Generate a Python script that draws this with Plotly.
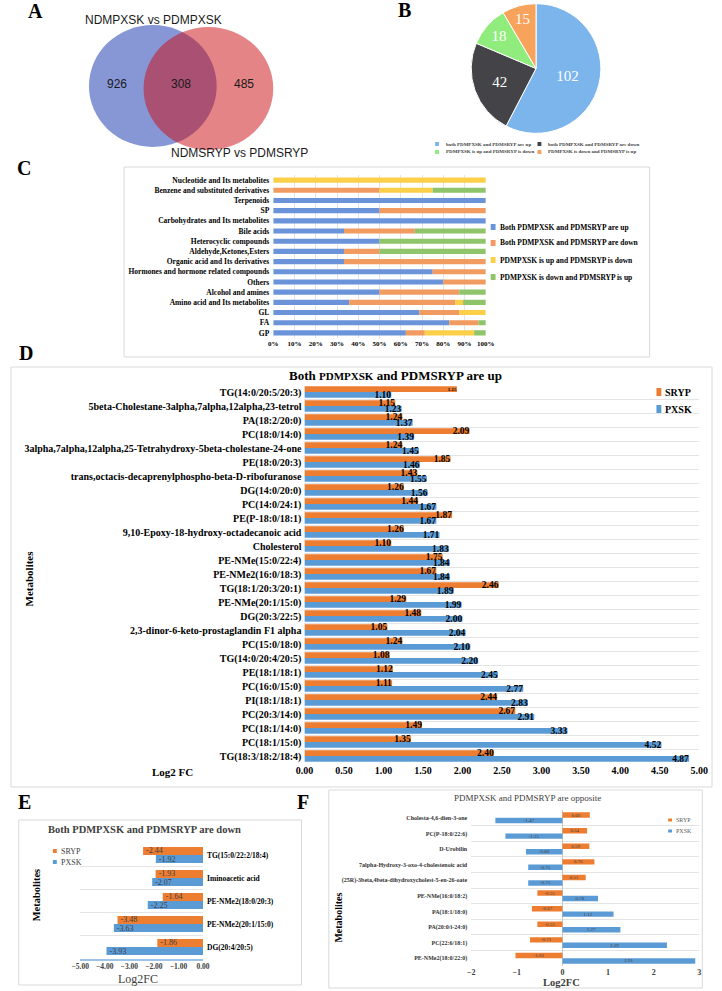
import plotly.graph_objects as go

W, H = 722, 991
SERIF = "Liberation Serif"
SANS = "Liberation Sans"


def X(p):
    return p / W


def Y(p):
    return 1 - p / H


# ---------------- data ----------------
venn_sets = ["NDMPXSK vs PDMPXSK", "NDMSRYP vs PDMSRYP"]
venn_counts = [926, 308, 485]

pie_labels = ["both PDMPXSK and PDMSRYP are up", "both PDMPXSK and PDMSRYP are down",
              "PDMPXSK is up and PDMSRYP is down", "PDMPXSK is down and PDMSRYP is up"]
pie_values = [102, 42, 18, 15]

c_classes = ["Nucleotide and Its metabolites", "Benzene and substituted derivatives", "Terpenoids", "SP",
             "Carbohydrates and Its metabolites", "Bile acids", "Heterocyclic compounds",
             "Aldehyde,Ketones,Esters", "Organic acid and Its derivatives",
             "Hormones and hormone related compounds", "Others", "Alcohol and amines",
             "Amino acid and Its metabolites", "GL", "FA", "GP"]
c_series = ["Both PDMPXSK and PDMSRYP are up", "Both PDMPXSK and PDMSRYP are down",
            "PDMPXSK is up and PDMSRYP is down", "PDMPXSK is down and PDMSRYP is up"]
c_both_up = [0, 0, 100, 50, 100, 33.3, 50, 33.3, 33.3, 75, 80, 50, 35.7, 68.75, 82.8, 62.4]
c_both_down = [0, 50, 0, 50, 0, 33.3, 0, 16.7, 66.7, 25, 20, 37.5, 50, 18.75, 13.8, 8.9]
c_up_down = [100, 25, 0, 0, 0, 0, 0, 0, 0, 0, 0, 0, 3.6, 12.5, 0, 23.2]
c_down_up = [0, 25, 0, 0, 0, 33.4, 50, 50, 0, 0, 0, 12.5, 10.7, 0, 3.4, 5.5]
c_ticks = [0, 10, 20, 30, 40, 50, 60, 70, 80, 90, 100]

d_metabolites = ["TG(14:0/20:5/20:3)", "5beta-Cholestane-3alpha,7alpha,12alpha,23-tetrol", "PA(18:2/20:0)",
                 "PC(18:0/14:0)", "3alpha,7alpha,12alpha,25-Tetrahydroxy-5beta-cholestane-24-one",
                 "PE(18:0/20:3)", "trans,octacis-decaprenylphospho-beta-D-ribofuranose", "DG(14:0/20:0)",
                 "PC(14:0/24:1)", "PE(P-18:0/18:1)", "9,10-Epoxy-18-hydroxy-octadecanoic acid", "Cholesterol",
                 "PE-NMe(15:0/22:4)", "PE-NMe2(16:0/18:3)", "TG(18:1/20:3/20:1)", "PE-NMe(20:1/15:0)",
                 "DG(20:3/22:5)", "2,3-dinor-6-keto-prostaglandin F1 alpha", "PC(15:0/18:0)",
                 "TG(14:0/20:4/20:5)", "PE(18:1/18:1)", "PC(16:0/15:0)", "PI(18:1/18:1)", "PC(20:3/14:0)",
                 "PC(18:1/14:0)", "PC(18:1/15:0)", "TG(18:3/18:2/18:4)"]
# bar lengths as drawn in the reference (first SRYP bar is drawn longer than its printed label)
d_sryp = [1.93, 1.15, 1.24, 2.09, 1.24, 1.85, 1.43, 1.26, 1.44, 1.87, 1.26, 1.10, 1.75, 1.67,
          2.46, 1.29, 1.48, 1.05, 1.24, 1.08, 1.12, 1.11, 2.44, 2.67, 1.49, 1.35, 2.40]
d_sryp_labels = ["1.15", "1.15", "1.24", "2.09", "1.24", "1.85", "1.43", "1.26", "1.44", "1.87", "1.26",
                 "1.10", "1.75", "1.67", "2.46", "1.29", "1.48", "1.05", "1.24", "1.08", "1.12", "1.11",
                 "2.44", "2.67", "1.49", "1.35", "2.40"]
d_pxsk = [1.10, 1.23, 1.37, 1.39, 1.45, 1.46, 1.55, 1.56, 1.67, 1.67, 1.71, 1.83, 1.84, 1.84,
          1.89, 1.99, 2.00, 2.04, 2.10, 2.20, 2.45, 2.77, 2.83, 2.91, 3.33, 4.52, 4.87]

e_metabolites = ["TG(15:0/22:2/18:4)", "Iminoacetic acid", "PE-NMe2(18:0/20:3)", "PE-NMe2(20:1/15:0)",
                 "DG(20:4/20:5)"]
e_sryp = [-2.44, -1.93, -1.64, -3.48, -1.86]
e_pxsk = [-1.92, -2.07, -2.25, -3.63, -3.93]

f_metabolites = ["Cholesta-4,6-dien-3-one", "PC(P-18:0/22:6)", "D-Urobilin",
                 "7alpha-Hydroxy-3-oxo-4-cholestenoic acid",
                 "(25R)-3beta,4beta-dihydroxycholest-5-en-26-oate", "PE-NMe(16:0/18:2)", "PA(18:1/18:0)",
                 "PA(20:0/i-24:0)", "PC(22:6/18:1)", "PE-NMe2(18:0/22:0)"]
f_sryp = [0.60, 0.54, 0.59, 0.70, 0.51, -0.55, -0.67, -0.55, -0.71, -1.03]
f_pxsk = [-1.47, -1.25, -0.80, -0.75, -0.75, 0.78, 1.12, 1.27, 2.29, 2.91]

# ---------------- styles ----------------
VENN_BLUE = "#8797d6"
VENN_RED = "rgba(203,10,15,0.5)"
PIE_COLORS = ["#7cb5ec", "#434348", "#90ed7d", "#f7a35c"]
C_COLORS = ["#6b93da", "#f19b60", "#fccf48", "#8fc46b"]
ORANGE = "#ed7d31"
BLUE = "#5b9bd5"
BORDER = "#d9d9d9"
GRID = "#e4e4e4"

fig = go.Figure()

# ---- C: stacked composition bars ----
c_all = [c_both_up, c_both_down, c_up_down, c_down_up]
base = [0.0] * len(c_classes)
for name, vals, col in zip(c_series, c_all, C_COLORS):
    fig.add_trace(go.Bar(y=c_classes, x=vals, base=list(base), orientation="h", name=name,
                         width=0.5, offset=-0.25, marker=dict(color=col, line=dict(width=0)),
                         xaxis="x", yaxis="y", showlegend=False, hoverinfo="skip"))
    base = [b + v for b, v in zip(base, vals)]

# ---- D ----
fig.add_trace(go.Bar(y=d_metabolites, x=d_sryp, orientation="h", name="SRYP", width=0.41, offset=-0.41,
                     marker=dict(color=ORANGE, line=dict(width=0)), text=d_sryp_labels,
                     textposition="inside", insidetextanchor="end", constraintext="none", textangle=0,
                     textfont=dict(family=SERIF, size=[5] + [9.5] * 26, color="black", weight="bold"),
                     cliponaxis=False, xaxis="x2", yaxis="y2", showlegend=False))
fig.add_trace(go.Bar(y=d_metabolites, x=d_pxsk, orientation="h", name="PXSK", width=0.41, offset=0.0,
                     marker=dict(color=BLUE, line=dict(width=0)), text=[f"{v:.2f}" for v in d_pxsk],
                     textposition="inside", insidetextanchor="end", constraintext="none", textangle=0,
                     textfont=dict(family=SERIF, size=9.5, color="black", weight="bold"),
                     cliponaxis=False, xaxis="x2", yaxis="y2", showlegend=False))

# ---- E ----
fig.add_trace(go.Bar(y=e_metabolites, x=e_sryp, orientation="h", name="SRYP", width=0.35, offset=-0.35,
                     marker=dict(color=ORANGE, line=dict(width=0)), text=[f"{v:.2f}" for v in e_sryp],
                     textposition="inside", insidetextanchor="end", constraintext="none", textangle=0,
                     textfont=dict(family=SERIF, size=8, color="#404040"),
                     xaxis="x3", yaxis="y3", showlegend=False))
fig.add_trace(go.Bar(y=e_metabolites, x=e_pxsk, orientation="h", name="PXSK", width=0.35, offset=0.0,
                     marker=dict(color=BLUE, line=dict(width=0)), text=[f"{v:.2f}" for v in e_pxsk],
                     textposition="inside", insidetextanchor="end", constraintext="none", textangle=0,
                     textfont=dict(family=SERIF, size=8, color="#404040"),
                     xaxis="x3", yaxis="y3", showlegend=False))

# ---- F ----
fig.add_trace(go.Bar(y=f_metabolites, x=f_sryp, orientation="h", name="SRYP", width=0.35, offset=-0.35,
                     marker=dict(color=ORANGE, line=dict(width=0)), text=[f"{v:.2f}" for v in f_sryp],
                     textposition="inside", insidetextanchor="middle", constraintext="none", textangle=0,
                     textfont=dict(family=SERIF, size=5, color="#404040"),
                     xaxis="x4", yaxis="y4", showlegend=False))
fig.add_trace(go.Bar(y=f_metabolites, x=f_pxsk, orientation="h", name="PXSK", width=0.35, offset=0.0,
                     marker=dict(color=BLUE, line=dict(width=0)), text=[f"{v:.2f}" for v in f_pxsk],
                     textposition="inside", insidetextanchor="middle", constraintext="none", textangle=0,
                     textfont=dict(family=SERIF, size=5, color="#404040"),
                     xaxis="x4", yaxis="y4", showlegend=False))

# ---- B: pie ----
fig.add_trace(go.Pie(labels=pie_labels, values=pie_values, sort=False, direction="clockwise", rotation=0,
                     domain=dict(x=[X(474), X(607)], y=[Y(135), Y(2)]),
                     marker=dict(colors=PIE_COLORS, line=dict(color="white", width=1)),
                     textinfo="value", textposition="inside", insidetextorientation="horizontal",
                     textfont=dict(family=SERIF, size=15, color="white"), showlegend=False,
                     hoverinfo="label+value"))

# ---------------- shapes ----------------
shapes = []


def rect(x0, y0, x1, y1, line=None, fill=None, lw=1):
    shapes.append(dict(type="rect", xref="paper", yref="paper", x0=X(x0), x1=X(x1), y0=Y(y1), y1=Y(y0),
                       line=dict(color=line or "rgba(0,0,0,0)", width=lw if line else 0),
                       fillcolor=fill or "rgba(0,0,0,0)", layer="below"))


# venn circles
shapes.append(dict(type="circle", xref="paper", yref="paper", x0=X(82), x1=X(213), y0=Y(147), y1=Y(25),
                   line=dict(width=0), fillcolor=VENN_BLUE, layer="above"))
shapes.append(dict(type="circle", xref="paper", yref="paper", x0=X(138), x1=X(271), y0=Y(150), y1=Y(27),
                   line=dict(width=0), fillcolor=VENN_RED, layer="above"))

# panel boxes
rect(118, 167, 657, 357, line=BORDER)
rect(2, 367, 721, 787, line=BORDER)
rect(10, 820, 300, 985, line=BORDER)
rect(328, 790, 711, 988, line=BORDER)

# ---------------- annotations ----------------
anns = []


def ann(text, x, y, size, color="black", family=SERIF, xanchor="center", yanchor="middle", angle=0):
    anns.append(dict(text=text, x=X(x), y=Y(y), xref="paper", yref="paper", showarrow=False,
                     font=dict(family=family, size=size, color=color), xanchor=xanchor, yanchor=yanchor,
                     textangle=angle))


# panel letters
for letter, lx, ly in [("A", 27, 11), ("B", 406, 10), ("C", 15, 168), ("D", 17, 353), ("E", 16, 802),
                       ("F", 302, 802)]:
    ann(f"<b>{letter}</b>", lx, ly, 20)

# venn texts
ann(venn_sets[0], 148, 20, 12, family=SANS, color="#1a1a1a")
ann(venn_sets[1], 236, 153, 12, family=SANS, color="#1a1a1a")
for cnt, vx in zip(venn_counts, [111, 176, 241]):
    ann(str(cnt), vx, 84, 12, family=SANS, color="#1a1a1a")

# pie legend
for i, (lab, col) in enumerate(zip(pie_labels, PIE_COLORS)):
    sx = 437 if i % 2 == 0 else 542
    sy = 144 if i < 2 else 152
    rect(sx, sy - 2, sx + 4, sy + 2, fill=col)
    ann(f"<b>{lab}</b>", sx + 9, sy, 5, color="#444444", xanchor="left")

# C legend
for lab, col, ly in zip(c_series, C_COLORS, [227, 243, 260, 277]):
    rect(494, ly - 3, 499, ly + 3, fill=col)
    ann(f"<b>{lab}</b>", 502, ly, 7.5, xanchor="left")

# D texts
ann("<b>Both <span style='font-size:11px'>PDMPXSK</span> and PDMSRYP are up</b>", 396, 375, 13)
ann("<b>Log2 FC</b>", 168, 772, 11)
ann("<b>Metabolites</b>", 21, 578, 11, angle=-90)
for lab, col, ly in [("SRYP", ORANGE, 392), ("PXSK", BLUE, 409)]:
    rect(664, ly - 4, 669, ly + 4, fill=col)
    ann(f"<b>{lab}</b>", 671, ly, 10, xanchor="left")

# E texts
ann("<b>Both PDMPXSK and PDMSRYP are down</b>", 139, 829, 10.5, color="#404040")
ann("Log2FC", 132, 979, 12, color="#404040")
ann("<b>Metabolites</b>", 28, 895, 10.5, angle=-90)
for lab, col, ly in [("SRYP", ORANGE, 851), ("PXSK", BLUE, 862)]:
    rect(45, ly - 2, 49, ly + 2, fill=col)
    ann(lab, 51, ly, 8, color="#404040", xanchor="left")

# F texts
ann("PDMPXSK and PDMSRYP are opposite", 532, 798, 9, color="#404040")
ann("<b>Log2FC</b>", 567, 982, 10.5, color="#404040")
ann("<b>Metabolites</b>", 337, 918, 10, angle=-90)
for lab, col, ly in [("SRYP", ORANGE, 820), ("PXSK", BLUE, 831)]:
    rect(676, ly - 1.5, 680, ly + 1.5, fill=col)
    ann(lab, 682, ly, 6, color="#595959", xanchor="left")

# ---------------- layout ----------------
bold_serif = lambda s, c="black": dict(family=SERIF, size=s, color=c, weight="bold")

fig.update_layout(
    width=W, height=H, margin=dict(l=0, r=0, t=0, b=0), autosize=False,
    paper_bgcolor="white", plot_bgcolor="rgba(0,0,0,0)", barmode="overlay", showlegend=False,
    shapes=shapes, annotations=anns,
    # C
    xaxis=dict(domain=[X(271), X(489)], range=[0, 100], tickvals=c_ticks,
               ticktext=[f"{t}%" for t in c_ticks], showgrid=True, gridcolor=GRID, zeroline=False,
               showline=False, tickfont=bold_serif(7), anchor="y", fixedrange=True),
    yaxis=dict(domain=[Y(338), Y(175)], categoryorder="array", categoryarray=c_classes,
               autorange="reversed", showgrid=False, zeroline=False, tickfont=bold_serif(7.5),
               ticklabelstandoff=3, anchor="x", fixedrange=True),
    # D
    xaxis2=dict(domain=[X(303), X(708)], range=[0, 5], dtick=0.5, tickformat=".2f", showgrid=False,
                zeroline=False, showline=False, tickfont=bold_serif(10), anchor="y2"),
    yaxis2=dict(domain=[Y(763), Y(385)], categoryorder="array", categoryarray=d_metabolites,
                autorange="reversed", tickson="boundaries", showgrid=True, gridcolor=GRID,
                zeroline=False, tickfont=bold_serif(10), ticklabelstandoff=2, anchor="x2"),
    # E
    xaxis3=dict(domain=[X(73), X(199)], range=[-5, 0], dtick=1, tickformat=".2f", showgrid=False,
                zeroline=False, showline=True, linecolor="#9dc3e6", linewidth=1.5,
                tickfont=bold_serif(7.5, "#404040"), anchor="y3"),
    yaxis3=dict(domain=[Y(958.5), Y(843.5)], categoryorder="array", categoryarray=e_metabolites,
                autorange="reversed", side="right", tickson="boundaries", showgrid=True, gridcolor=GRID,
                zeroline=False, tickfont=bold_serif(7.5), ticklabelstandoff=3, anchor="x3"),
    # F
    xaxis4=dict(domain=[X(474), X(708)], range=[-2, 3], dtick=1, showgrid=False, zeroline=True,
                zerolinecolor="#c8c8c8", zerolinewidth=1, showline=False,
                tickfont=bold_serif(8, "#404040"), anchor="y4"),
    yaxis4=dict(domain=[Y(966), Y(810)], categoryorder="array", categoryarray=f_metabolites,
                autorange="reversed", tickson="boundaries", showgrid=True, gridcolor=GRID,
                zeroline=False, tickfont=bold_serif(6, "#333333"), ticklabelstandoff=3, anchor="x4"),
)

fig.write_html("out.html", config={"displayModeBar": False},
               post_script="document.body.style.margin='0px';document.body.style.overflow='hidden';")
